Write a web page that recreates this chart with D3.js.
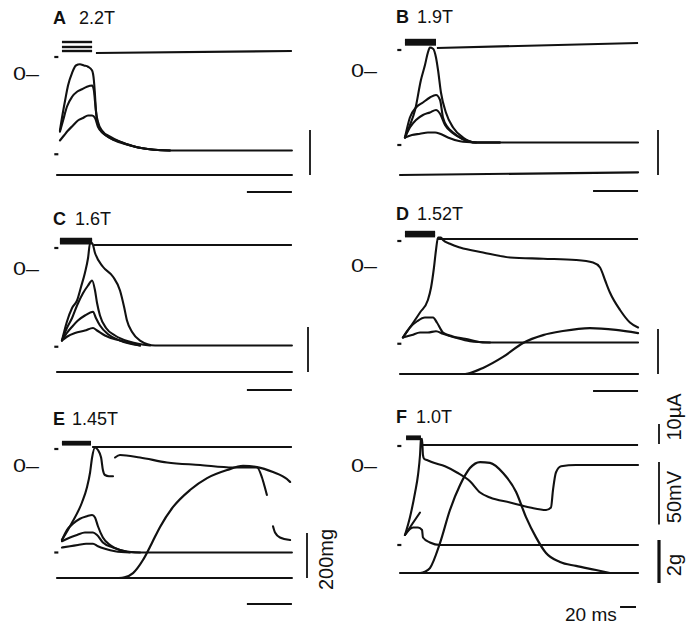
<!DOCTYPE html>
<html><head><meta charset="utf-8">
<script src="https://cdn.jsdelivr.net/npm/d3@7/dist/d3.min.js"></script>
<style>
html,body{margin:0;padding:0;background:#fff}
svg{display:block}
text{font-family:"Liberation Sans",Arial,Helvetica,sans-serif;fill:#111}
</style></head><body>
<svg id="fig" width="686" height="626"></svg>
<script>
// ================= DATA =================
const panelIds  = ["A","B","C","D","E","F"];
const strengths = ["2.2T","1.9T","1.6T","1.52T","1.45T","1.0T"];

// stimulus current pulses (ms on / off, amplitudes in µA)
const stimOn   = [2.2, 2.2, 1.3, 2.2, 2.2, 2.7];
const stimOff  = [15.6, 16, 15.6, 15.6, 15.1, 9.3];
const stimAmps = [[5.5,3,1],[1.75,2.5,3.25,4],[0.9,1.6,2.3,3.0],[1.4,2.1,2.8,3.5],[1.3,1.9,2.5],[3,3.6,4.2]];
const currentAfter = [
  [[17.3,0],[104.4,1]],
  [[16.4,0],[105.8,2.5]],
  [[16.4,0],[104.4,0]],
  [[16.4,0],[105.8,0]],
  [[15.6,0],[104.4,0]],
  [[9.3,3.4],[9.5,0],[105.8,0]]
];
const currentMark = [-2,-1,-1.5,-1,-1,-0.5];   // µA level of left marker
const restMark    = [-65,-60,-63,-63,-70,-64]; // mV level of left marker

// membrane potential traces [ms, mV]
const voltageA = [
  [[1.3,-46],[2.2,-36],[3.6,-22],[4.9,-10],[6.7,0],[8.4,6],[10.2,7],[12,6],[13.8,5],[15.6,2],[16.4,-6],[16.9,-18],[17.3,-30],[18.2,-39],[20,-46],[23.6,-51],[28,-55],[34.7,-59],[41.3,-61],[50,-62],[104.4,-62]],
  [[1.3,-47],[2.7,-38],[4.4,-27],[6.7,-19],[8.9,-15],[11.1,-13],[13.3,-11],[15.6,-10],[16.4,-14],[16.9,-23],[17.8,-38],[19.1,-45],[21.8,-50],[25.8,-54],[32.4,-58],[41.3,-61],[50.2,-62]],
  [[1.3,-54],[3.1,-50],[4.9,-46],[7.1,-42],[9.3,-38],[11.6,-36],[13.8,-34],[15.6,-34],[16.9,-36],[18.2,-43],[20.4,-48],[23.6,-52],[28,-55],[34.7,-59],[41.3,-61],[50.2,-62]]
];
const voltageB = [
  [[2.2,-54],[4.4,-44],[6.7,-32],[9.3,-8],[11.1,4],[12.4,14],[13.3,18],[14.7,17],[16,10],[16.9,0],[18.2,-18],[20.4,-34],[23.6,-46],[28,-54],[33.8,-58],[44.4,-58],[105.8,-58]],
  [[2.2,-54],[4.4,-38],[7.1,-30],[10.2,-26],[13.3,-22],[16,-20],[17.8,-24],[19.1,-38],[21.3,-46],[23.6,-50],[27.6,-55],[33.8,-58],[44.4,-58]],
  [[2.2,-54],[4.4,-46],[7.1,-40],[10.2,-36],[13.3,-34],[16,-32],[17.8,-35],[20,-44],[23.1,-50],[27.6,-55],[33.8,-58],[44.4,-58]],
  [[2.2,-54],[5.3,-52],[8.9,-51],[12.4,-50],[15.6,-50],[17.8,-51],[21.3,-54],[26.7,-57],[33.8,-58]]
];
const voltageC = [
  [[2.2,-58],[4.4,-43],[6.7,-32],[8.9,-26],[10.7,-15],[12.4,-4],[13.8,8],[14.7,20],[15.6,20],[16.9,12],[20.4,1],[24.9,-7],[28,-18],[29.8,-31],[31.1,-42],[33.3,-51],[36.9,-58],[43.6,-62],[104.4,-62]],
  [[2.2,-58],[4.4,-48],[6.7,-40],[8.9,-30],[11.6,-20],[13.8,-14],[15.6,-10],[16.9,-18],[17.8,-28],[19.1,-38],[21.8,-48],[25.8,-54],[32.4,-59],[41.3,-62]],
  [[2.2,-58],[4.4,-52],[6.7,-47],[9.3,-42],[12.4,-38],[16,-35],[17.3,-40],[19.1,-46],[22.7,-53],[28,-58],[36.9,-62]],
  [[2.2,-58],[4.4,-55],[8,-52],[12.4,-50],[16,-48],[17.8,-50],[21.3,-54],[28,-58],[36.9,-62]]
];
const voltageD = [
  [[1.3,-58],[4.4,-50],[8.9,-38],[12.4,-28],[13.8,-18],[15.1,-2],[16,12],[16.9,22],[18.2,22],[19.1,20],[22.2,17],[26.7,14],[36.9,10],[48.9,6],[63.6,5],[78.2,4],[85.8,2],[88.9,-2],[91.1,-12],[93.3,-22],[97.8,-36],[102.2,-46],[105.8,-50]],
  [[1.3,-58],[4.4,-50],[7.6,-45],[11.1,-42],[14.7,-42],[16.4,-46],[19.1,-54],[23.1,-57],[28.9,-59],[37.8,-62],[53.3,-62],[105.8,-62]],
  [[1.3,-58],[5.3,-56],[8.9,-54],[12.4,-54],[16,-53],[19.1,-55],[24.4,-58],[31.1,-61],[40,-62]]
];
const voltageE = [
  [[2.2,-60],[6.7,-46],[11.1,-30],[13.3,-18],[14.7,-6],[15.6,6],[16.9,14],[18.2,12],[19.6,6],[20.4,-4],[21.3,-8],[23.1,-9],[24.9,-9]],
  [[25.8,6],[28,8],[36.9,6],[48.9,2],[63.6,0],[78.2,-2],[84.4,-2],[88.9,-2],[91.1,-10],[92.4,-18],[93.3,-24]],
  [[96,-49],[96.9,-54],[99.1,-58],[103.6,-60]],
  [[2.2,-60],[4.4,-52],[7.1,-47],[10.2,-43],[13.3,-41],[15.6,-40],[16.9,-42],[18.2,-49],[20.4,-58],[23.6,-64],[28,-68],[34.7,-70],[104.4,-70]],
  [[2.2,-61],[5.8,-58],[8.9,-56],[12.4,-54],[16,-54],[17.8,-56],[20.4,-62],[24.9,-66],[30.2,-69],[36.9,-70]],
  [[2.2,-66],[5.8,-65],[9.3,-64],[12.9,-63],[16,-63],[18.2,-65],[21.3,-67],[25.8,-69],[32.4,-70]]
];
const voltageF = [
  [[2.2,-56],[4.4,-42],[6.7,-22],[8,-8],[8.9,8],[9.3,20],[9.8,21],[10.2,8],[10.7,5],[12,4],[14.7,2],[20,-1],[25.3,-6],[31.1,-13],[35.6,-22],[40,-26],[48.9,-30],[57.8,-34],[64.9,-36],[67.1,-34],[68,-20],[69.3,-6],[71.6,-1],[78.2,0],[105.8,0]],
  [[2.2,-56],[5.5,-47],[8.9,-38]],
  [[2.2,-56],[5.8,-50],[8,-50],[9.8,-52],[10.2,-58],[13.3,-62],[17.8,-64],[105.8,-64]]
];
const voltageTraces = [voltageA, voltageB, voltageC, voltageD, voltageE, voltageF];

// isometric force traces [ms, mg]
const forceA = [[[0,0],[104.4,0]]];
const forceB = [[[0,0],[105.8,12]]];
const forceC = [[[0,0],[104.4,0]]];
const forceD = [[[0,0],[105.8,0]],
  [[29,0],[31.1,4],[36.9,27],[45.8,76],[54.7,138],[63.6,173],[72.4,191],[84.4,204],[96,196],[105.8,182]]];
const forceE = [[[0,0],[104.4,0]],
  [[27.5,0],[30,3],[33.8,22],[38.2,80],[42.2,156],[45.8,227],[51.6,316],[59.1,391],[66.7,444],[75.6,480],[82.7,498],[88.9,493],[96,471],[102.2,440],[103.6,427]]];
const forceF = [[[0,0],[105.8,0]],
  [[9,0],[11,60],[13.3,230],[17.8,1400],[22.2,2930],[26.7,4090],[31.1,4880],[35.6,5160],[40,5120],[45.8,4650],[51.6,3770],[56,2600],[60.4,1670],[64.9,930],[71.1,510],[78.2,330],[87.1,140],[93.3,0]]];
const forceTraces = [forceA, forceB, forceC, forceD, forceE, forceF];

// calibration bars
const timeBarMs   = 20;     // ms
const forceBarMg  = 200;    // mg (panels A-E)
const forceBarF   = 2000;   // mg = 2 g (panel F)
const currentBar  = 10;     // µA
const voltageBar  = 50;     // mV
const timeBarF    = [97.8, 104.9]; // visible piece above "20 ms"

// ================= LAYOUT =================
const layout = [
  {x0:57,  vZero:73,  iZero:53,  fZero:175, fRef:200,  fRefPx:45, labelX:53,  labelY:24,  dx:13, zeroX:13,  barX:310, tBarY:192, tEnd:104.4},
  {x0:400, vZero:70,  iZero:48,  fZero:175, fRef:200,  fRefPx:45, labelX:396, labelY:23,  dx:8,  zeroX:351, barX:658, tBarY:191, tEnd:105.8},
  {x0:57,  vZero:268, iZero:245, fZero:372, fRef:200,  fRefPx:45, labelX:53,  labelY:225, dx:9,  zeroX:13,  barX:308, tBarY:390, tEnd:104.4},
  {x0:400, vZero:265, iZero:239, fZero:374, fRef:200,  fRefPx:45, labelX:396, labelY:220, dx:8,  zeroX:351, barX:658, tBarY:391, tEnd:105.8},
  {x0:57,  vZero:465, iZero:447, fZero:578, fRef:200,  fRefPx:45, labelX:53,  labelY:425, dx:7,  zeroX:13,  barX:307, tBarY:604, tEnd:104.4},
  {x0:400, vZero:465, iZero:445, fZero:573, fRef:2000, fRefPx:43, labelX:396, labelY:423, dx:9,  zeroX:351, barX:null, tBarY:607, tEnd:105.8}
];

const svg = d3.select("#fig");
const ink = "#111";

panelIds.forEach((id, i) => {
  const L = layout[i];
  const x  = d3.scaleLinear().domain([0, 20]).range([L.x0, L.x0 + 45]);
  const yV = d3.scaleLinear().domain([0, -50]).range([L.vZero, L.vZero + 62.5]);
  const yI = d3.scaleLinear().domain([0, 10]).range([L.iZero, L.iZero - 20]);
  const yF = d3.scaleLinear().domain([0, L.fRef]).range([L.fZero, L.fZero - L.fRefPx]);
  const g = svg.append("g").attr("class", "panel-" + id);

  const lineV = d3.line().x(d => x(d[0])).y(d => yV(d[1])).curve(d3.curveMonotoneX);
  const lineI = d3.line().x(d => x(d[0])).y(d => yI(d[1]));
  const lineF = d3.line().x(d => x(d[0])).y(d => yF(d[1])).curve(d3.curveMonotoneX);

  // panel label
  const t = g.append("text").attr("x", L.labelX).attr("y", L.labelY).style("font-size", "18px");
  t.append("tspan").style("font-weight", "bold").text(id);
  t.append("tspan").attr("dx", L.dx).text(strengths[i]);

  // zero-potential marker
  g.append("text").attr("x", L.zeroX).attr("y", yV(0) + 6.5).style("font-size", "18px")
    .attr("textLength", 26).attr("lengthAdjust", "spacingAndGlyphs").text("0–");

  // current trace: pulses
  stimAmps[i].forEach(a => {
    g.append("path").attr("d", lineI([[stimOn[i], a], [stimOff[i], a]]))
      .attr("fill", "none").attr("stroke", ink).attr("stroke-width", 2.4);
  });
  g.append("path").attr("d", lineI(currentAfter[i]))
    .attr("fill", "none").attr("stroke", ink).attr("stroke-width", 2.2);
  g.append("path").attr("d", lineI([[-1.2, currentMark[i]], [0.6, currentMark[i]]]))
    .attr("fill", "none").attr("stroke", ink).attr("stroke-width", 2.2);

  // voltage traces
  voltageTraces[i].forEach(tr => {
    g.append("path").attr("d", lineV(tr))
      .attr("fill", "none").attr("stroke", ink).attr("stroke-width", 2.1)
      .attr("stroke-linejoin", "round").attr("stroke-linecap", "round");
  });
  g.append("path").attr("d", lineV([[-1.2, restMark[i]], [0.6, restMark[i]]]))
    .attr("fill", "none").attr("stroke", ink).attr("stroke-width", 2.2);

  // force traces
  forceTraces[i].forEach(tr => {
    g.append("path").attr("d", lineF(tr))
      .attr("fill", "none").attr("stroke", ink).attr("stroke-width", 2.2)
      .attr("stroke-linecap", "round");
  });

  // calibration: force bar (A-E)
  if (L.barX !== null) {
    g.append("line").attr("x1", L.barX).attr("x2", L.barX)
      .attr("y1", yF(0)).attr("y2", yF(forceBarMg))
      .attr("stroke", ink).attr("stroke-width", 1.8);
  }
  // time bar
  const tb = id === "F" ? timeBarF : [L.tEnd - timeBarMs, L.tEnd];
  g.append("line").attr("x1", x(tb[0])).attr("x2", x(tb[1]))
    .attr("y1", L.tBarY).attr("y2", L.tBarY)
    .attr("stroke", ink).attr("stroke-width", 2);

  if (id === "E") {
    g.append("text").attr("transform", `translate(333,${(yF(0) + yF(forceBarMg)) / 2 + 4}) rotate(-90)`)
      .attr("text-anchor", "middle").style("font-size", "20px").text("200mg");
  }
  if (id === "F") {
    const bx = 659;
    // 10 µA
    g.append("line").attr("x1", bx).attr("x2", bx).attr("y1", yI(0) - 1).attr("y2", yI(currentBar) - 1)
      .attr("stroke", ink).attr("stroke-width", 1.8);
    g.append("text").attr("transform", "translate(681,417) rotate(-90)")
      .attr("text-anchor", "middle").style("font-size", "20px").text("10µA");
    // 50 mV
    g.append("line").attr("x1", bx).attr("x2", bx).attr("y1", yV(2.4)).attr("y2", yV(2.4 - voltageBar))
      .attr("stroke", ink).attr("stroke-width", 1.8);
    g.append("text").attr("transform", "translate(681,497) rotate(-90)")
      .attr("text-anchor", "middle").style("font-size", "20px").text("50mV");
    // 2 g
    g.append("line").attr("x1", bx).attr("x2", bx).attr("y1", yF(0) + 10).attr("y2", yF(forceBarF) + 10)
      .attr("stroke", ink).attr("stroke-width", 3.2);
    g.append("text").attr("transform", "translate(681,565) rotate(-90)")
      .attr("text-anchor", "middle").style("font-size", "20px").text("2g");
    // 20 ms
    g.append("text").attr("x", 565).attr("y", 621).style("font-size", "19px").text("20 ms");
  }
});
</script>
</body></html>
